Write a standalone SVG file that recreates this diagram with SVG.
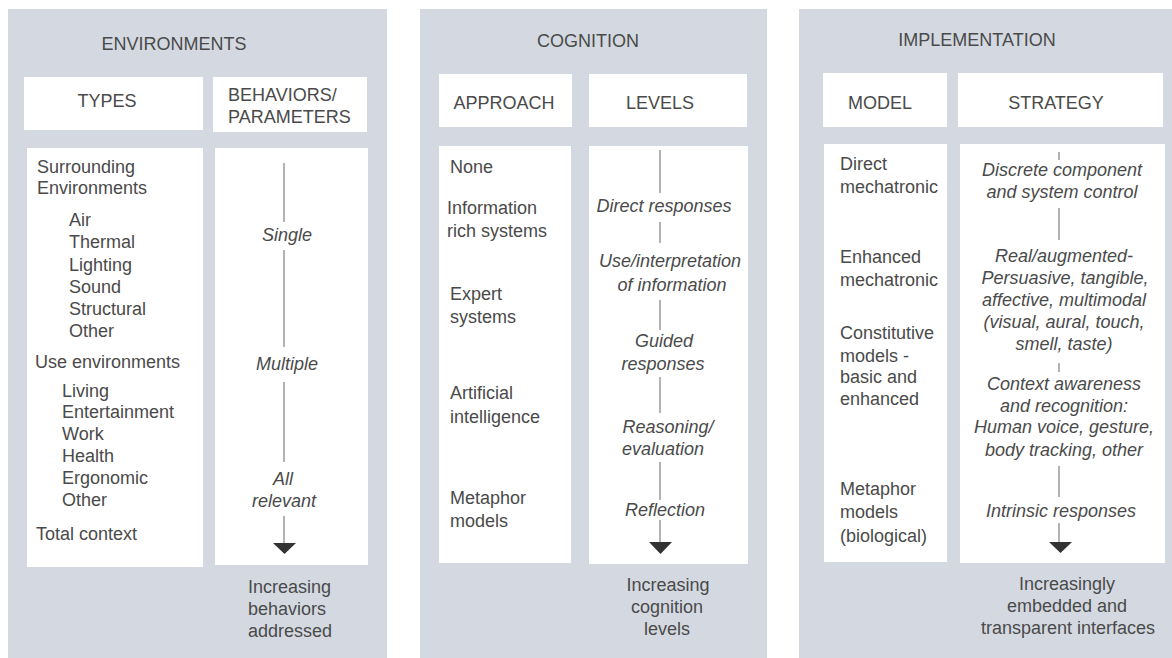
<svg xmlns="http://www.w3.org/2000/svg" width="1172" height="658" viewBox="0 0 1172 658">
<style>
.bg{fill:#d4d9e1}
.box{fill:#ffffff}
text{font-family:"Liberation Sans",Arial,sans-serif;font-size:18px;fill:#4a4a4a}
.t{font-size:18px}
.c{text-anchor:middle}
.i{font-style:italic}
.ln{stroke:#8a8a8a;stroke-width:1.3;fill:none}
.ah{fill:#333333}
</style>
<rect width="1172" height="658" fill="#ffffff"/>
<g id="panel-environments">
<rect class="bg" x="8" y="9" width="379" height="649"/>
<text class="t c" x="174" y="50">ENVIRONMENTS</text>
</g>
<g id="header-types">
<rect class="box" x="24" y="77" width="179" height="53"/>
<text class="t c" x="107" y="107">TYPES</text>
</g>
<g id="header-behaviors">
<rect class="box" x="213" y="77" width="154" height="55"/>
<text class="t" x="228" y="101">BEHAVIORS/</text>
<text class="t" x="228" y="123">PARAMETERS</text>
</g>
<g id="body-types">
<rect class="box" x="27" y="148" width="176" height="419"/>
<text x="37" y="173">Surrounding</text>
<text x="37" y="194">Environments</text>
<text x="69" y="226">Air</text>
<text x="69" y="248">Thermal</text>
<text x="69" y="271">Lighting</text>
<text x="69" y="293">Sound</text>
<text x="69" y="315">Structural</text>
<text x="69" y="337">Other</text>
<text x="35" y="368">Use environments</text>
<text x="62" y="397">Living</text>
<text x="62" y="418">Entertainment</text>
<text x="62" y="440">Work</text>
<text x="62" y="462">Health</text>
<text x="62" y="484">Ergonomic</text>
<text x="62" y="506">Other</text>
<text x="36" y="540">Total context</text>
</g>
<g id="body-behaviors">
<rect class="box" x="215" y="148" width="153" height="417"/>
<text class="i c" x="287" y="241">Single</text>
<text class="i c" x="287" y="370">Multiple</text>
<text class="i c" x="283" y="485">All</text>
<text class="i c" x="284" y="507">relevant</text>
</g>
<g id="note-behaviors">
<text x="248" y="593">Increasing</text>
<text x="248" y="615">behaviors</text>
<text x="248" y="637">addressed</text>
</g>

<g id="panel-cognition">
<rect class="bg" x="420" y="9" width="347" height="649"/>
<text class="t c" x="588" y="47">COGNITION</text>
</g>
<g id="header-approach">
<rect class="box" x="439" y="74" width="133" height="53"/>
<text class="t c" x="504" y="109">APPROACH</text>
</g>
<g id="header-levels">
<rect class="box" x="589" y="74" width="158" height="53"/>
<text class="t c" x="660" y="109">LEVELS</text>
</g>
<g id="body-approach">
<rect class="box" x="439" y="146" width="132" height="417"/>
<text x="450" y="173">None</text>
<text x="447" y="214">Information</text>
<text x="447" y="237">rich systems</text>
<text x="450" y="300">Expert</text>
<text x="450" y="323">systems</text>
<text x="450" y="399">Artificial</text>
<text x="450" y="423">intelligence</text>
<text x="450" y="504">Metaphor</text>
<text x="450" y="527">models</text>
</g>
<g id="body-levels">
<rect class="box" x="589" y="146" width="159" height="418"/>
<text class="i c" x="664" y="212">Direct responses</text>
<text class="i c" x="670" y="267">Use/interpretation</text>
<text class="i c" x="672" y="291">of information</text>
<text class="i c" x="664" y="347">Guided</text>
<text class="i c" x="663" y="370">responses</text>
<text class="i c" x="668" y="433">Reasoning/</text>
<text class="i c" x="663" y="455">evaluation</text>
<text class="i c" x="665" y="516">Reflection</text>
</g>
<g id="note-cognition">
<text class="c" x="668" y="591">Increasing</text>
<text class="c" x="667" y="613">cognition</text>
<text class="c" x="667" y="635">levels</text>
</g>

<g id="panel-implementation">
<rect class="bg" x="799" y="9" width="373" height="649"/>
<text class="t c" x="977" y="46">IMPLEMENTATION</text>
</g>
<g id="header-model">
<rect class="box" x="823" y="73" width="124" height="54"/>
<text class="t c" x="880" y="109">MODEL</text>
</g>
<g id="header-strategy">
<rect class="box" x="958" y="73" width="205" height="54"/>
<text class="t c" x="1056" y="109">STRATEGY</text>
</g>
<g id="body-model">
<rect class="box" x="824" y="144" width="123" height="418"/>
<text x="840" y="170">Direct</text>
<text x="840" y="193">mechatronic</text>
<text x="840" y="263">Enhanced</text>
<text x="840" y="286">mechatronic</text>
<text x="840" y="339">Constitutive</text>
<text x="840" y="362">models -</text>
<text x="840" y="383">basic and</text>
<text x="840" y="405">enhanced</text>
<text x="840" y="495">Metaphor</text>
<text x="840" y="518">models</text>
<text x="840" y="542">(biological)</text>
</g>
<g id="body-strategy">
<rect class="box" x="960" y="144" width="205" height="419"/>
<text class="i c" x="1062" y="176">Discrete component</text>
<text class="i c" x="1062" y="198">and system control</text>
<text class="i c" x="1064" y="262">Real/augmented-</text>
<text class="i c" x="1065" y="284">Persuasive, tangible,</text>
<text class="i c" x="1064" y="306">affective, multimodal</text>
<text class="i c" x="1064" y="328">(visual, aural, touch,</text>
<text class="i c" x="1064" y="350">smell, taste)</text>
<text class="i c" x="1064" y="390">Context awareness</text>
<text class="i c" x="1064" y="412">and recognition:</text>
<text class="i c" x="1064" y="433">Human voice, gesture,</text>
<text class="i c" x="1064" y="456">body tracking, other</text>
<text class="i c" x="1061" y="517">Intrinsic responses</text>
</g>
<g id="note-implementation">
<text class="c" x="1067" y="590">Increasingly</text>
<text class="c" x="1067" y="612">embedded and</text>
<text class="c" x="1068" y="634">transparent interfaces</text>
</g>

<g id="connectors">
<line class="ln" x1="284" y1="163" x2="284" y2="222"/>
<line class="ln" x1="284" y1="250" x2="284" y2="347"/>
<line class="ln" x1="284" y1="382" x2="284" y2="462"/>
<line class="ln" x1="284" y1="516" x2="284" y2="543"/>
<polygon class="ah" points="273,543 296,543 284.5,554"/>
<line class="ln" x1="660" y1="150" x2="660" y2="193"/>
<line class="ln" x1="660" y1="222" x2="660" y2="243"/>
<line class="ln" x1="660" y1="300" x2="660" y2="330"/>
<line class="ln" x1="660" y1="377" x2="660" y2="413"/>
<line class="ln" x1="660" y1="462" x2="660" y2="500"/>
<line class="ln" x1="660" y1="520" x2="660" y2="542"/>
<polygon class="ah" points="649,542 672,542 660.5,554"/>
<line class="ln" x1="1059" y1="152" x2="1059" y2="160"/>
<line class="ln" x1="1059" y1="208" x2="1059" y2="240"/>
<line class="ln" x1="1059" y1="363" x2="1059" y2="372"/>
<line class="ln" x1="1059" y1="466" x2="1059" y2="497"/>
<line class="ln" x1="1059" y1="523" x2="1059" y2="542"/>
<polygon class="ah" points="1049,542 1072,542 1060.5,553"/>
</g>
</svg>
